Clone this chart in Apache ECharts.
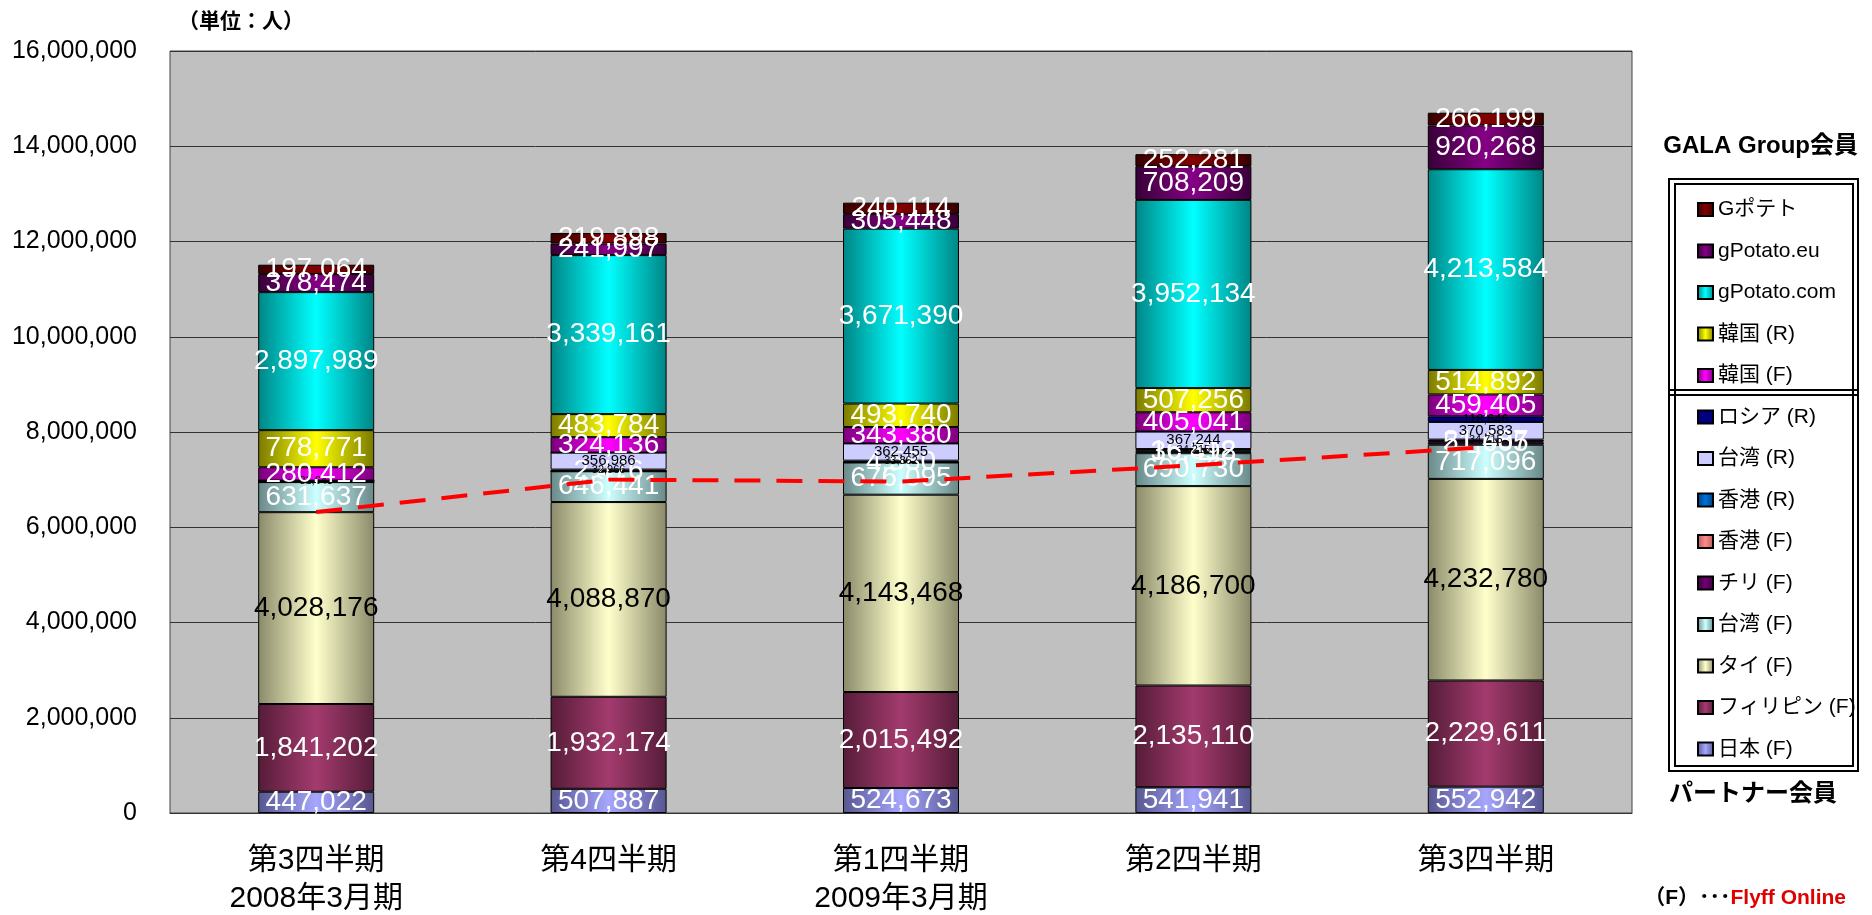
<!DOCTYPE html>
<html><head><meta charset="utf-8">
<script src="https://cdn.jsdelivr.net/npm/echarts@6/dist/echarts.min.js"></script>
<style>html,body{margin:0;padding:0;background:#fff;}#c{width:1872px;height:915px;}</style>
</head><body><div id="c"></div>
<script>
// ---- data ----
const categories = ['第3四半期\n2008年3月期', '第4四半期', '第1四半期\n2009年3月期', '第2四半期', '第3四半期'];
const yTicks = [0, 2000000, 4000000, 6000000, 8000000, 10000000, 12000000, 14000000, 16000000];
const japanF      = [447022, 507887, 524673, 541941, 552942];
const philippinesF= [1841202, 1932174, 2015492, 2135110, 2229611];
const thaiF       = [4028176, 4088870, 4143468, 4186700, 4232780];
const taiwanF     = [631637, 646441, 676095, 690730, 717096];
const chileF      = [0, 2476, 4580, 36498, 51605];
const hongkongF   = [0, 0, 0, 16812, 21487];
const hongkongR   = [31643, 32966, 33862, 34215, 34715];
const taiwanR     = [0, 356986, 362455, 367244, 370583];
const russiaR     = [0, 0, 0, 0, 118646];
const koreaF      = [280412, 324136, 343380, 405041, 459405];
const koreaR      = [778771, 483784, 493740, 507256, 514892];
const gpotatoCom  = [2897989, 3339161, 3671390, 3952134, 4213584];
const gpotatoEu   = [378474, 241997, 305448, 708209, 920268];
const gpotete     = [197064, 219898, 240114, 252281, 266199];
const trendLine   = [6320000, 7000000, 6960000, 7300000, 7680000];

// series names bottom -> top
const seriesNames = ['日本 (F)','フィリピン (F)','タイ (F)','台湾 (F)','チリ (F)','香港 (F)','香港 (R)','台湾 (R)','ロシア (R)','韓国 (F)','韓国 (R)','gPotato.com','gPotato.eu','Gポテト'];
const seriesData = [japanF, philippinesF, thaiF, taiwanF, chileF, hongkongF, hongkongR, taiwanR, russiaR, koreaF, koreaR, gpotatoCom, gpotatoEu, gpotete];

// ---- styles ----
const grad = (edge, mid) => ({type:'linear', x:0, y:0, x2:1, y2:0, colorStops:[{offset:0,color:edge},{offset:0.5,color:mid},{offset:1,color:edge}]});
const fills = [
  grad('#56568f', '#a6a6ff'),
  grad('#561c38', '#a33b6e'),
  grad('#8a8a6a', '#ffffcc'),
  grad('#6a8888', '#ccffff'),
  grad('#3a003a', '#700070'),
  grad('#b05858', '#ff8a8a'),
  grad('#003c7a', '#0070dd'),
  '#ccccff',
  '#000080',
  grad('#7a007a', '#ff00ff'),
  grad('#7a7a00', '#ffff00'),
  grad('#008585', '#00ffff'),
  grad('#380038', '#850085'),
  grad('#380000', '#850000')
];
const bigWhite = {color:'#fff', fontSize:28, fontFamily:"'Liberation Sans', sans-serif"};
const bigBlack = {color:'#000', fontSize:28, fontFamily:"'Liberation Sans', sans-serif"};
const labelStyles = [bigWhite, bigWhite, bigBlack, bigWhite, bigWhite, bigWhite,
  {color:'#000', fontSize:11, fontFamily:"'Liberation Sans', sans-serif"},
  {color:'#000', fontSize:15, fontFamily:"'Liberation Sans', sans-serif"},
  {color:'#000', fontSize:13, fontFamily:"'Liberation Sans', sans-serif"},
  bigWhite, bigWhite, bigWhite, bigWhite, bigWhite];

const fmt = v => String(v).replace(/\B(?=(\d{3})+(?!\d))/g, ',');

const series = seriesNames.map((name, i) => ({
  name, type:'bar', stack:'total', barWidth:116,
  data: seriesData[i],
  itemStyle:{color:fills[i], borderColor:'#000', borderWidth:1},
  label:Object.assign({show:true, position:'inside', formatter:p => p.value ? fmt(p.value) : ''}, labelStyles[i]),
  emphasis:{disabled:true}
}));
series.push({
  name:'trend', type:'line', data:trendLine, symbol:'none', z:10, silent:true,
  lineStyle:{color:'#ff0000', width:4, type:[26, 16]}
});

const legendOrder = seriesNames.slice().reverse();

const chart = echarts.init(document.getElementById('c'), null, {renderer:'canvas'});
chart.setOption({
  animation:false,
  backgroundColor:'#fff',
  grid:{left:170, right:240, top:51, bottom:102, outerBoundsMode:'none', containLabel:false, show:true, backgroundColor:'#c0c0c0', borderColor:'#444', borderWidth:1},
  xAxis:{type:'category', data:categories,
    axisTick:{show:false}, axisLine:{lineStyle:{color:'#333'}},
    axisLabel:{color:'#000', fontSize:30, lineHeight:38, margin:29, fontFamily:"'Liberation Sans', 'Noto Sans CJK JP', sans-serif"}},
  yAxis:{type:'value', min:yTicks[0], max:yTicks[yTicks.length-1], interval:yTicks[1]-yTicks[0],
    axisLine:{show:false}, axisTick:{show:false},
    splitLine:{lineStyle:{color:'#333', width:1}},
    axisLabel:{color:'#000', fontSize:25, margin:33, fontFamily:"'Liberation Sans', sans-serif", formatter:v => fmt(v)}},
  legend:{data:legendOrder, orient:'vertical', left:1692, top:194, icon:'rect', itemWidth:15, itemHeight:13, itemGap:20.5,
    textStyle:{color:'#000', fontSize:21, lineHeight:21, fontFamily:"'Liberation Sans', 'Noto Sans CJK JP', sans-serif"},
    selectedMode:false},
  graphic:[
    {type:'text', left:178, top:10, style:{text:'（単位：人）', fontSize:21, fontWeight:'bold', fill:'#000', fontFamily:"'Noto Sans CJK JP', sans-serif"}},
    {type:'text', right:14, top:134, style:{text:'GALA Group会員', fontSize:24, fontWeight:'bold', fill:'#000', fontFamily:"'Liberation Sans', 'Noto Sans CJK JP', sans-serif"}},
    {type:'text', left:1669, top:780, style:{text:'パートナー会員', fontSize:24, fontWeight:'bold', fill:'#000', fontFamily:"'Noto Sans CJK JP', sans-serif"}},
    {type:'rect', shape:{x:1669, y:179, width:189, height:592}, style:{fill:null, stroke:'#000', lineWidth:2}},
    {type:'rect', shape:{x:1675, y:184, width:178, height:582}, style:{fill:null, stroke:'#000', lineWidth:2}},
    {type:'line', shape:{x1:1669, y1:390, x2:1858, y2:390}, style:{stroke:'#000', lineWidth:2}},
    {type:'line', shape:{x1:1669, y1:395, x2:1858, y2:395}, style:{stroke:'#000', lineWidth:2}},
    {type:'text', right:26, top:888, style:{rich:{a:{fill:'#000', fontSize:21, fontWeight:'bold', fontFamily:"'Liberation Sans', 'Noto Sans CJK JP', sans-serif"}, b:{fill:'#e00000', fontSize:21, fontWeight:'bold', fontFamily:"'Liberation Sans', sans-serif"}}, text:'{a|（F）･･･}{b|Flyff Online}'}}
  ],
  series
});
</script></body></html>
